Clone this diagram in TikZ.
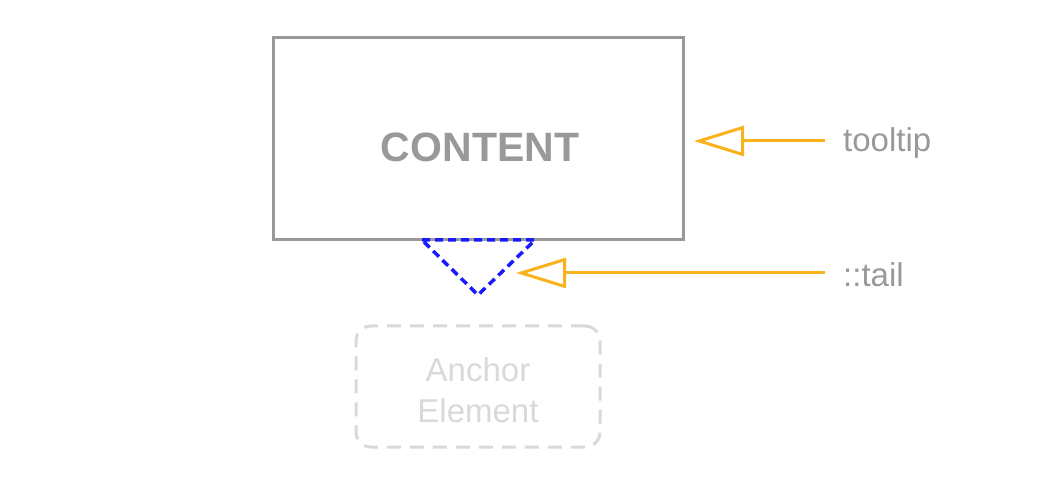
\documentclass[tikz,border=0pt]{standalone}
\usepackage{fontspec}
\setmainfont{Liberation Sans}
\usetikzlibrary{arrows.meta}
\definecolor{boxgray}{HTML}{999999}
\definecolor{lightgray2}{HTML}{D9D9D9}
\definecolor{tipblue}{HTML}{1A1AFF}
\definecolor{arrorange}{HTML}{F9B21C}
\begin{document}
\begin{tikzpicture}[x=1pt,y=-1pt,
  contentbox/.style={draw=boxgray,line width=3pt,minimum width=410pt,minimum height=202pt,inner sep=0pt},
  anchorbox/.style={draw=lightgray2,line width=3pt,dash pattern=on 14pt off 9pt,rounded corners=15pt,
     minimum width=244pt,minimum height=121pt,inner sep=0pt},
  anchortext/.style={align=center,text=lightgray2,font=\fontsize{33}{41}\selectfont,inner sep=0pt},
  lbl/.style={anchor=west,inner sep=0pt,text=boxgray,font=\fontsize{33}{36}\selectfont},
  tailline/.style={draw=tipblue,line width=3.5pt,dash pattern=on 8pt off 5pt},
  arr/.style={draw=arrorange,line width=3pt,-{Triangle[open,length=50pt,width=30pt]}}]
\useasboundingbox (0,0) rectangle (1042,486);
\node[contentbox] (content) at (478,139) {};
\node[text=boxgray,font=\fontsize{41}{44}\selectfont\bfseries] (ctext) at (480,147) {CONTENT};
\coordinate (tl) at (422,240);
\coordinate (tr) at (535,240);
\coordinate (tb) at (478,295);
\draw[tailline] (tl) -- (tr) -- (tb) -- cycle;
\node[anchorbox] (anchor) at (478,386.5) {};
\node[anchortext] (atext) at (478,390) {Anchor\\Element};
\node[lbl] (tt) at (843,143) {tooltip};
\node[lbl] (tail) at (843,275) {::tail};
\coordinate (ttstart) at (825,141);
\coordinate (ttend) at (694,141);
\coordinate (tastart) at (825,273);
\coordinate (taend) at (516,273);
\draw[arr] (ttstart) -- (ttend);
\draw[arr] (tastart) -- (taend);
\end{tikzpicture}
\end{document}
